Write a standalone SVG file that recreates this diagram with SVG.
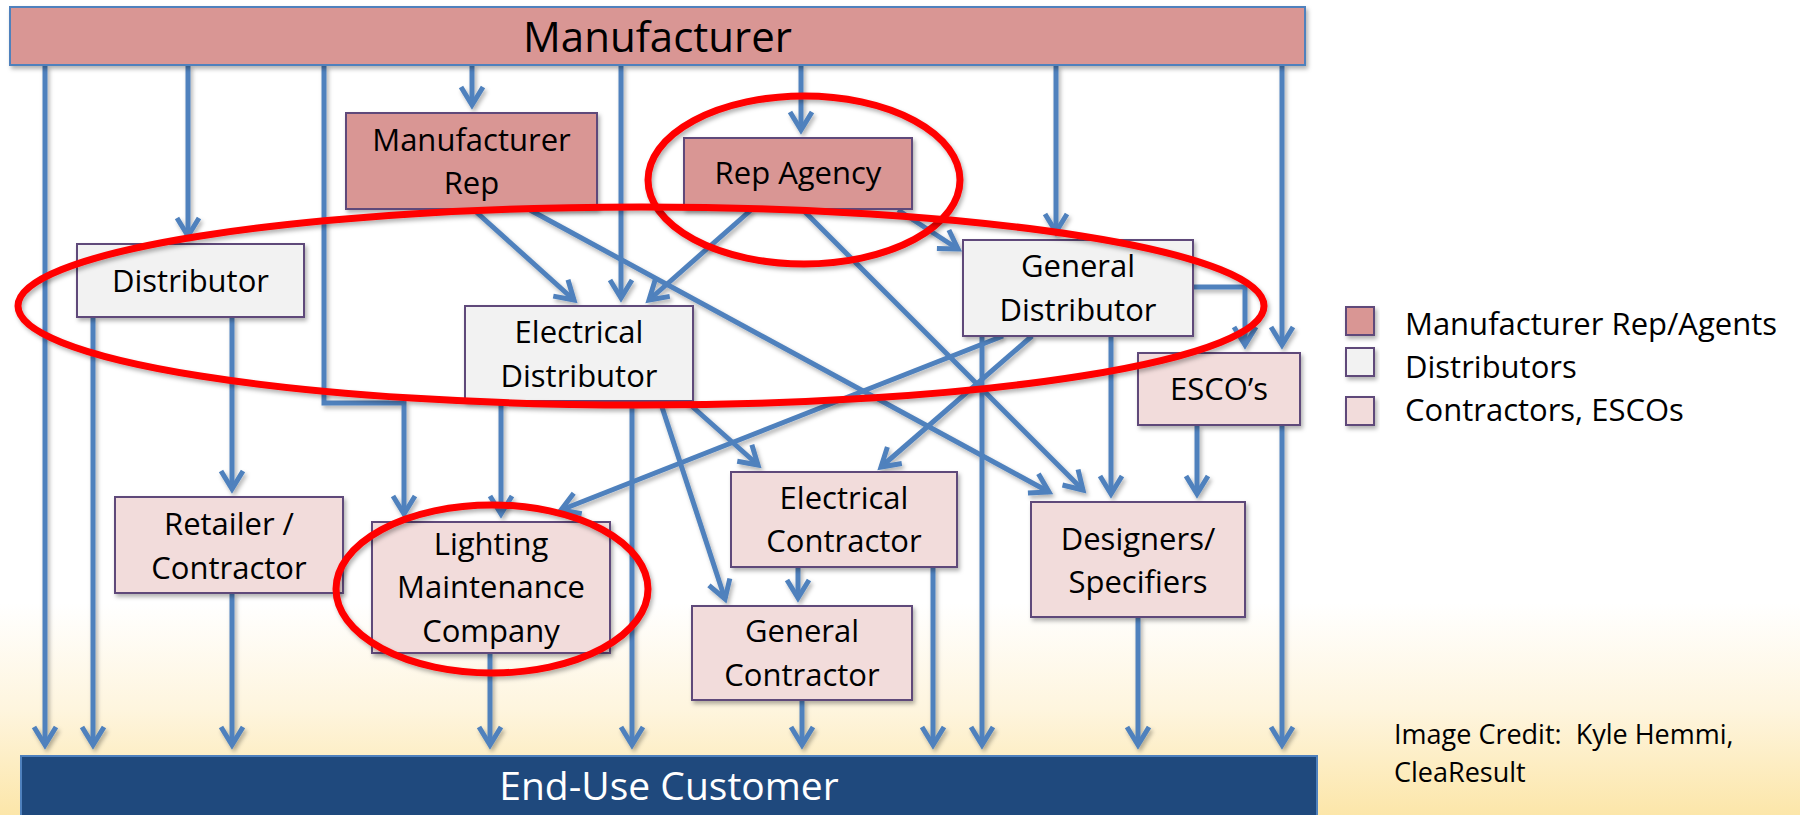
<svg xmlns="http://www.w3.org/2000/svg" width="1800" height="815" viewBox="0 0 1800 815">
  <defs>
    <linearGradient id="bg" x1="0" y1="0" x2="0" y2="1">
      <stop offset="0" stop-color="#ffffff"/>
      <stop offset="0.74" stop-color="#ffffff"/>
      <stop offset="0.87" stop-color="#fef5de"/>
      <stop offset="1" stop-color="#fce6a9"/>
    </linearGradient>
    <filter id="sh" x="-10%" y="-10%" width="130%" height="140%">
      <feDropShadow dx="2" dy="3" stdDeviation="2" flood-color="#000000" flood-opacity="0.3"/>
    </filter>
    <marker id="arr" markerUnits="userSpaceOnUse" markerWidth="40" markerHeight="40" viewBox="-30 -20 40 40" refX="0" refY="0" orient="auto" overflow="visible">
      <path d="M-18,-11 L0,0 L-18,11" fill="none" stroke="#4f81bd" stroke-width="5" stroke-linejoin="miter"/>
    </marker>
    <style>
      .conn { fill: none; stroke: #4f81bd; stroke-width: 5; marker-end: url(#arr); }
      .box { stroke: #5f497a; stroke-width: 2; filter: url(#sh); }
      .mfr { fill: #d99694; }
      .dist { fill: #f2f2f2; }
      .cont { fill: #f2dcdb; }
      .t { font-family: "Open Sans", "Liberation Sans", sans-serif; font-size: 31px; fill: #000000; text-anchor: middle; }
      .lg { font-family: "Open Sans", "Liberation Sans", sans-serif; font-size: 31px; fill: #000000; }
      .hl { fill: none; stroke: #ff0000; stroke-width: 7; filter: url(#sh); }
    </style>
  </defs>

  <rect x="0" y="0" width="1800" height="815" fill="url(#bg)"/>

  <g id="connectors" filter="url(#sh)">
    <path class="conn" d="M45,65 V745"/>
    <path class="conn" d="M188,65 V236"/>
    <path class="conn" d="M324,65 V403 H404 V514"/>
    <path class="conn" d="M472,65 V105"/>
    <path class="conn" d="M621,65 V298"/>
    <path class="conn" d="M801,65 V130"/>
    <path class="conn" d="M1056,65 V232"/>
    <path class="conn" d="M1282,65 V345"/>
    <path class="conn" d="M93,317 V745"/>
    <path class="conn" d="M232,317 V489"/>
    <path class="conn" d="M232,593 V745"/>
    <path class="conn" d="M474,210 L574,300"/>
    <path class="conn" d="M530,210 L1049,492"/>
    <path class="conn" d="M751,210 L649,300"/>
    <path class="conn" d="M803,210 L1083,490"/>
    <path class="conn" d="M898,210 L958,249"/>
    <path class="conn" d="M1193,287 H1245 V345"/>
    <path class="conn" d="M1003,336 L561,510"/>
    <path class="conn" d="M1032,336 L881,467"/>
    <path class="conn" d="M982,336 V745"/>
    <path class="conn" d="M1111,336 V494"/>
    <path class="conn" d="M501,401 V514"/>
    <path class="conn" d="M632,401 V745"/>
    <path class="conn" d="M660,401 L725,599"/>
    <path class="conn" d="M686,401 L758,465"/>
    <path class="conn" d="M1197,425 V494"/>
    <path class="conn" d="M1282,425 V745"/>
    <path class="conn" d="M798,567 V598"/>
    <path class="conn" d="M933,567 V745"/>
    <path class="conn" d="M490,653 V745"/>
    <path class="conn" d="M802,700 V745"/>
    <path class="conn" d="M1138,617 V745"/>
  </g>

  <g id="manufacturer">
    <rect x="10" y="7" width="1295" height="58" fill="#d99694" stroke="#4f81bd" stroke-width="2" filter="url(#sh)"/>
    <text class="t" x="657.5" y="52" style="font-size:42px">Manufacturer</text>
  </g>

  <g id="manufacturer-rep">
    <rect class="box mfr" x="346" y="113" width="251" height="96"/>
    <text class="t" x="471.5" y="151">Manufacturer</text>
    <text class="t" x="471.5" y="194">Rep</text>
  </g>

  <g id="rep-agency">
    <rect class="box mfr" x="684" y="138" width="228" height="71"/>
    <text class="t" x="798" y="184">Rep Agency</text>
  </g>

  <g id="distributor">
    <rect class="box dist" x="77" y="244" width="227" height="73"/>
    <text class="t" x="190.5" y="292">Distributor</text>
  </g>

  <g id="general-distributor">
    <rect class="box dist" x="963" y="240" width="230" height="96"/>
    <text class="t" x="1078" y="277">General</text>
    <text class="t" x="1078" y="321">Distributor</text>
  </g>

  <g id="electrical-distributor">
    <rect class="box dist" x="465" y="306" width="228" height="95"/>
    <text class="t" x="579" y="343">Electrical</text>
    <text class="t" x="579" y="387">Distributor</text>
  </g>

  <g id="escos">
    <rect class="box cont" x="1138" y="353" width="162" height="72"/>
    <text class="t" x="1219" y="400">ESCO’s</text>
  </g>

  <g id="retailer-contractor">
    <rect class="box cont" x="115" y="497" width="228" height="96"/>
    <text class="t" x="229" y="535">Retailer /</text>
    <text class="t" x="229" y="579">Contractor</text>
  </g>

  <g id="lighting-maintenance">
    <rect class="box cont" x="372" y="522" width="238" height="131"/>
    <text class="t" x="491" y="555">Lighting</text>
    <text class="t" x="491" y="598">Maintenance</text>
    <text class="t" x="491" y="642">Company</text>
  </g>

  <g id="electrical-contractor">
    <rect class="box cont" x="731" y="472" width="226" height="95"/>
    <text class="t" x="844" y="509">Electrical</text>
    <text class="t" x="844" y="552">Contractor</text>
  </g>

  <g id="general-contractor">
    <rect class="box cont" x="692" y="606" width="220" height="94"/>
    <text class="t" x="802" y="642">General</text>
    <text class="t" x="802" y="686">Contractor</text>
  </g>

  <g id="designers-specifiers">
    <rect class="box cont" x="1031" y="502" width="214" height="115"/>
    <text class="t" x="1138" y="550">Designers/</text>
    <text class="t" x="1138" y="593">Specifiers</text>
  </g>

  <g id="end-use-customer">
    <rect x="21" y="756" width="1296" height="70" fill="#1f497d" stroke="#4f81bd" stroke-width="2"/>
    <text class="t" x="669" y="800" style="font-size:39px;fill:#ffffff">End-Use Customer</text>
  </g>

  <g id="highlights">
    <ellipse class="hl" cx="804" cy="180" rx="156" ry="84"/>
    <ellipse class="hl" cx="641" cy="306" rx="623" ry="99"/>
    <ellipse class="hl" cx="492" cy="589" rx="156" ry="84"/>
  </g>

  <g id="legend">
    <rect class="box mfr" x="1346" y="307" width="28" height="28"/>
    <rect class="box dist" x="1346" y="348" width="28" height="28"/>
    <rect class="box cont" x="1346" y="397" width="28" height="28"/>
    <text class="lg" x="1405" y="335">Manufacturer Rep/Agents</text>
    <text class="lg" x="1405" y="378">Distributors</text>
    <text class="lg" x="1405" y="421">Contractors, ESCOs</text>
  </g>

  <g id="credit">
    <text class="lg" x="1394" y="744" style="font-size:27px" xml:space="preserve">Image Credit:  Kyle Hemmi,</text>
    <text class="lg" x="1394" y="782" style="font-size:27px">CleaResult</text>
  </g>
</svg>
